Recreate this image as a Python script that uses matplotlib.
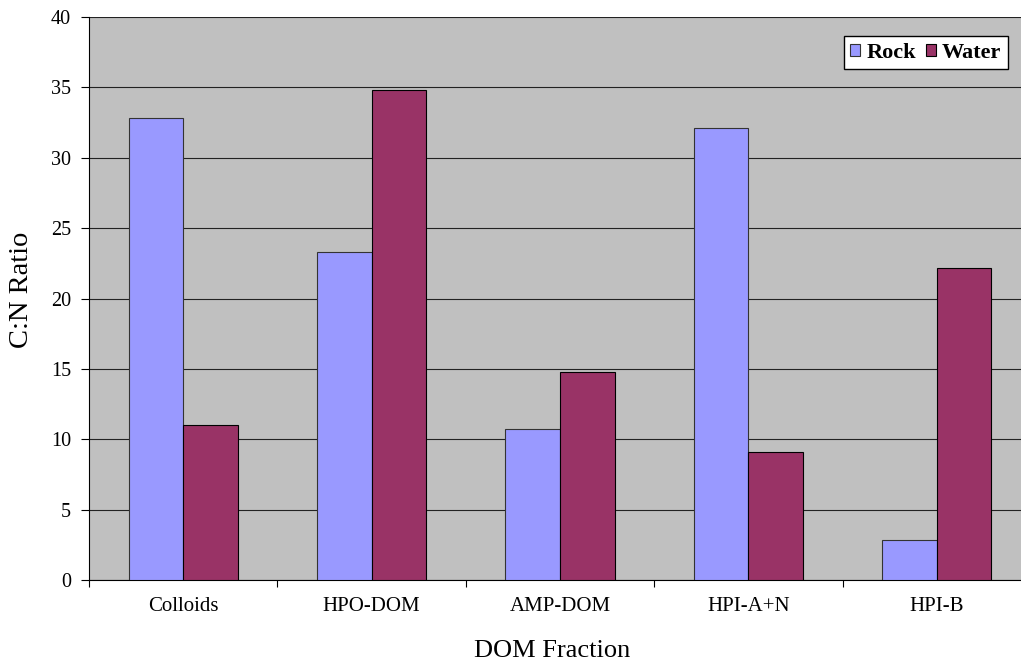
import matplotlib
matplotlib.use("Agg")
import matplotlib.pyplot as plt
import numpy as np

categories = ["Colloids", "HPO-DOM", "AMP-DOM", "HPI-A+N", "HPI-B"]
rock = [32.8, 23.3, 10.7, 32.1, 2.85]
water = [11.0, 34.8, 14.8, 9.1, 22.2]

plt.rcParams['font.family'] = ['Liberation Serif', 'DejaVu Serif']

W, H = 1021, 661
fig = plt.figure(figsize=(W / 100, H / 100), dpi=100)
left, right, top, bottom = 89, 1031, 17, 580
ax = fig.add_axes([left / W, 1 - bottom / H, (right - left) / W, (bottom - top) / H])
ax.set_facecolor("#C0C0C0")

x = np.arange(len(categories))
w = 0.29
ax.bar(x - w/2, rock, w, color="#9999FF", edgecolor="#333333", linewidth=0.8, label="Rock", zorder=3)
ax.bar(x + w/2, water, w, color="#993366", edgecolor="#000000", linewidth=0.8, label="Water", zorder=3)

ax.set_xlim(-0.5, len(categories) - 0.5)
ax.set_ylim(0, 40)
ax.set_yticks(np.arange(0, 41, 5))
ax.yaxis.grid(True, color="#222222", linewidth=0.8, zorder=1)
ax.set_axisbelow(True)

ax.set_xticks(np.arange(-0.5, len(categories), 1.0))
ax.set_xticklabels([])
ax.set_xticks(x, minor=True)
ax.set_xticklabels(categories, minor=True, fontsize=15)
ax.tick_params(axis="x", which="minor", length=0, pad=12)
ax.tick_params(axis="x", which="major", length=5, direction="out")
ax.tick_params(axis="y", labelsize=14.5, length=6, direction="out", pad=7)

for s in ["top", "right"]:
    ax.spines[s].set_visible(False)
ax.spines["left"].set_color("black")
ax.spines["bottom"].set_color("black")

ax.set_xlabel("DOM Fraction", fontsize=19)
ax.xaxis.set_label_coords((552 - left) / (right - left), (bottom - 651) / (bottom - top))
ax.xaxis.label.set_va("center")
ax.set_ylabel("C:N Ratio", fontsize=20.5)
ax.yaxis.set_label_coords((22 - left) / (right - left), (bottom - 290) / (bottom - top))
ax.yaxis.label.set_va("center")

leg = ax.legend(loc="upper right", bbox_to_anchor=(1008 / W, 1 - 36 / H), bbox_transform=fig.transFigure,
                ncol=2, frameon=True, fancybox=False, framealpha=1.0,
                prop={"weight": "bold", "size": 16}, handlelength=0.45, handleheight=0.45,
                handletextpad=0.27, columnspacing=0.45, borderpad=0.3, borderaxespad=0)
leg.get_frame().set_edgecolor("black")
leg.get_frame().set_facecolor("white")
leg.get_frame().set_linewidth(1.0)

fig.savefig("out.png", dpi=100)
